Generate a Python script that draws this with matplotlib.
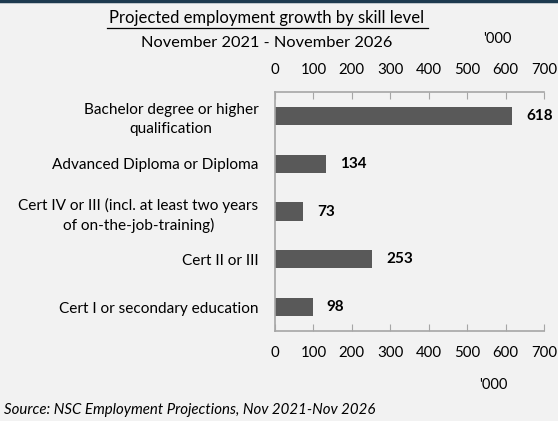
import matplotlib
matplotlib.use("Agg")
import matplotlib.pyplot as plt
from matplotlib.ticker import MultipleLocator

plt.rcParams['font.family'] = ['Lato', 'DejaVu Sans']

categories = [
    "Bachelor degree or higher\nqualification",
    "Advanced Diploma or Diploma",
    "Cert IV or III (incl. at least two years\nof on-the-job-training)",
    "Cert II or III",
    "Cert I or secondary education",
]
growth = [618, 134, 73, 253, 98]
title = "Projected employment growth by skill level"
subtitle = "November 2021 - November 2026"
unit = "'000"
source = "Source: NSC Employment Projections, Nov 2021-Nov 2026"

BG = "#f2f2f2"
BAR = "#595959"
SPINE = "#a6a6a6"
TXT = "#000000"

W, H = 558, 421
fig = plt.figure(figsize=(W / 100, H / 100), dpi=100, facecolor=BG)

# axes box in pixel coordinates
x0, x1 = 275, 544
y0, y1 = 92, 331
ax = fig.add_axes([x0 / W, 1 - y1 / H, (x1 - x0) / W, (y1 - y0) / H])
ax.set_facecolor(BG)

pos = list(range(len(categories)))
ax.barh(pos, growth, height=0.38, color=BAR)
ax.set_ylim(len(categories) - 0.5, -0.5)
ax.set_xlim(0, 700)
ax.xaxis.set_major_locator(MultipleLocator(100))

for p, v in zip(pos, growth):
    ax.annotate(str(v), (v, p), xytext=(14, 0), textcoords="offset pixels",
                va="center", ha="left", fontsize=11, fontweight="bold", color=TXT)

ax.set_yticks(pos)
ax.set_yticklabels(categories, fontsize=11.1, color=TXT, multialignment="center",
                   linespacing=1.4)
ax.tick_params(axis="y", length=0, pad=12)
ax.tick_params(axis="x", which="both", direction="in", length=5, color=SPINE,
               top=True, labeltop=True, bottom=True, labelbottom=True,
               labelsize=10.8, labelcolor=TXT)
for t in ax.xaxis.get_major_ticks():
    t.set_pad(10.5)

for s in ["left", "top", "bottom"]:
    ax.spines[s].set_color(SPINE)
    ax.spines[s].set_linewidth(1.2)
ax.spines["right"].set_visible(False)

# header and footer text
fig.text(267 / W, 1 - 18 / H, title, ha="center", va="center", fontsize=12, color=TXT)
fig.add_artist(plt.Line2D([107 / W, 428 / W], [1 - 27.5 / H, 1 - 27.5 / H], color=TXT, lw=0.9))
fig.text(267 / W, 1 - 43 / H, subtitle, ha="center", va="center", fontsize=11.8, color=TXT)
fig.text(497 / W, 1 - 39 / H, unit, ha="center", va="center", fontsize=10.5, color=TXT)
fig.text(493 / W, 1 - 385 / H, unit, ha="center", va="center", fontsize=10.5, color=TXT)
fig.text(4 / W, 1 - 410 / H, source, ha="left", va="center", fontsize=10.8, style="italic", color=TXT)

# dark rule across the very top
fig.add_artist(plt.Line2D([0, 1], [1 - 1 / H, 1 - 1 / H], color="#1d3a4f", lw=2.5))

fig.savefig("out.png", dpi=100, facecolor=BG)
